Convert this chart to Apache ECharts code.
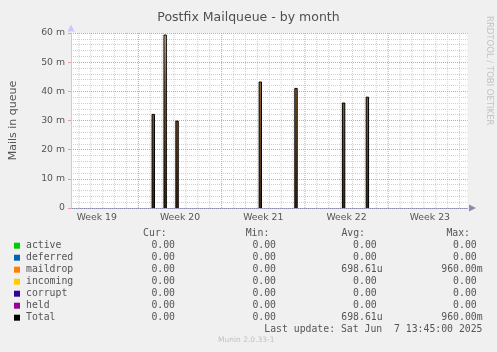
<!DOCTYPE html>
<html>
<head>
<meta charset="utf-8">
<script src="https://cdn.jsdelivr.net/npm/echarts@6/dist/echarts.min.js"></script>
<style>
  html, body { margin: 0; padding: 0; background: #f0f0f0; }
  #chart { width: 497px; height: 352px; }
</style>
</head>
<body>
<div id="chart"></div>
<script>
// x is in days since Monday of week 19
var xMin = 4 / 3;
var xMax = 104 / 3;
var weekStarts = [7, 14, 21, 28];
var weekCenters = [3.5, 10.5, 17.5, 24.5, 31.5];
var weekLabels = ['Week 19', 'Week 20', 'Week 21', 'Week 22', 'Week 23'];
var dayLines = [2, 3, 4, 5, 6, 8, 9, 10, 11, 12, 13, 15, 16, 17, 18, 19, 20, 22, 23, 24, 25, 26, 27, 29, 30, 31, 32, 33, 34];

// maildrop spikes (m = milli mails)
var spikeDays = [8.15, 9.15, 10.15, 17.15, 20.15, 24.15, 26.15];
var spikeValues = [32.1, 59.3, 29.8, 43.2, 41.0, 36.0, 38.0];
var spikeWidth = 0.2;

var seriesNames = ['active', 'deferred', 'maildrop', 'incoming', 'corrupt', 'held', 'Total'];
var seriesColors = ['#00cc00', '#0066b3', '#ff8000', '#ffcc00', '#330099', '#990099', '#000000'];
var curValues = ['0.00', '0.00', '0.00', '0.00', '0.00', '0.00', '0.00'];
var minValues = ['0.00', '0.00', '0.00', '0.00', '0.00', '0.00', '0.00'];
var avgValues = ['0.00', '0.00', '698.61u', '0.00', '0.00', '0.00', '698.61u'];
var maxValues = ['0.00', '0.00', '960.00m', '0.00', '0.00', '0.00', '960.00m'];

var yMax = 60;

var spikeData = [];
spikeDays.forEach(function (d, i) {
  spikeData.push([d, 0], [d, spikeValues[i]], [d + spikeWidth, spikeValues[i]], [d + spikeWidth, 0], null);
});

var mono = 'DejaVu Sans Mono';
var sans = 'DejaVu Sans';
var fs = 9.8;
var charW = fs * 0.602;
var rowTop = 245.7;
var rowH = 12;
var minorColor = '#d0d0d0';
var majorColor = '#e89a9a';

var graphics = [];
function txt(x, y, s, align, color, font, size) {
  graphics.push({
    type: 'text', x: x, y: y, silent: true,
    style: { text: s, fill: color || '#555', font: (size || fs) + 'px "' + (font || mono) + '"', textAlign: align || 'right', textVerticalAlign: 'middle' }
  });
}
txt(166.7, 233.5, 'Cur:');
txt(269.3, 233.5, 'Min:');
txt(365, 233.5, 'Avg:');
txt(470, 233.5, 'Max:');
var cols = [[curValues, 180.9], [minValues, 281.9], [avgValues, 382.6], [maxValues, 482.6]];
seriesNames.forEach(function (n, i) {
  cols.forEach(function (c) {
    var s = c[0][i];
    var hasUnit = /[a-zA-Z]$/.test(s);
    txt(hasUnit ? c[1] : c[1] - charW, rowTop + i * rowH, s);
  });
});
txt(482.5, 329.5, 'Last update: Sat Jun  7 13:45:00 2025');
txt(218, 340.5, 'Munin 2.0.33-1', 'left', '#c0c0c0', sans, 7.5);
graphics.push({
  type: 'text', x: 494, y: 16, rotation: -Math.PI / 2, silent: true,
  style: { text: 'RRDTOOL / TOBI OETIKER', fill: '#c4c4c4', font: '8.5px "' + sans + '"', textAlign: 'left', textVerticalAlign: 'top' }
});

// vertical grid lines (days grey, weeks red)
function vLines(name, values, color, z) {
  var data = [];
  values.forEach(function (v) { data.push([v, 0], [v, yMax], null); });
  return {
    name: name, type: 'line', data: data, symbol: 'none', silent: true, z: z, connectNulls: false,
    lineStyle: { color: color, width: 1, type: [1, 1] }
  };
}

var series = [vLines('days', dayLines, minorColor, 1), vLines('weeks', weekStarts, majorColor, 2)];
seriesNames.forEach(function (n, i) {
  series.push({ name: n, type: 'line', data: [], symbol: 'none', z: 3, itemStyle: { color: seriesColors[i] }, lineStyle: { width: 1 } });
});
series[4].data = spikeData;
series[4].lineStyle = { width: 0 };
series[4].areaStyle = {
  opacity: 1,
  color: new echarts.graphic.LinearGradient(0, 0, 0, 1, [
    { offset: 0, color: '#d8b890' },
    { offset: 0.35, color: '#8a5a2a' },
    { offset: 1, color: '#3a2410' }
  ])
};
series[8].data = spikeData;
series[8].z = 5;

var chart = echarts.init(document.getElementById('chart'));
chart.setOption({
  backgroundColor: '#f0f0f0',
  animation: false,
  title: {
    text: 'Postfix Mailqueue - by month', left: 'center', top: 6,
    textStyle: { fontFamily: sans, fontSize: 12.5, fontWeight: 'normal', color: '#505050' }
  },
  grid: { left: 67.5, right: 29.5, top: 33, bottom: 144, show: true, backgroundColor: '#ffffff', borderWidth: 0 },
  legend: {
    orient: 'vertical', left: 14, top: 239.7, padding: 0, itemWidth: 6, itemHeight: 6, itemGap: 0, icon: 'rect',
    selectedMode: false, data: seriesNames,
    textStyle: { fontFamily: mono, fontSize: fs, color: '#555', lineHeight: 12, padding: [0, 0, 0, 1] }
  },
  xAxis: {
    type: 'value', min: xMin, max: xMax,
    axisLine: { show: true, lineStyle: { color: '#8c8cb0' }, symbol: ['none', 'triangle'], symbolSize: [7, 7], symbolOffset: [0, 5] },
    axisTick: { show: false, customValues: weekCenters },
    axisLabel: {
      customValues: weekCenters, color: '#555', fontFamily: sans, fontSize: 9.3, margin: 5,
      formatter: function (v) { return weekLabels[Math.floor(v / 7)]; }
    },
    splitLine: { show: false }
  },
  yAxis: [
    {
      type: 'value', min: 0, max: yMax, interval: 10, z: 2,
      name: 'Mails in queue', nameLocation: 'middle', nameGap: 52,
      nameTextStyle: { fontFamily: sans, fontSize: 11, color: '#555' },
      axisLine: { show: true, lineStyle: { color: '#c8c8ff' }, symbol: ['none', 'triangle'], symbolSize: [7, 7], symbolOffset: [0, 5] },
      axisTick: { show: true, length: 3, lineStyle: { color: majorColor } },
      axisLabel: {
        color: '#555', fontFamily: sans, fontSize: 9.3, margin: 6,
        formatter: function (v) { return v === 0 ? '0' : v + ' m'; }
      },
      splitLine: { show: true, lineStyle: { color: majorColor, type: [1, 1] } }
    },
    {
      // minor horizontal grid every 2 m
      type: 'value', min: 0, max: yMax, interval: 2, position: 'left', z: 1,
      axisLine: { show: false }, axisTick: { show: false }, axisLabel: { show: false },
      splitLine: { show: true, lineStyle: { color: minorColor, type: [1, 1] } }
    }
  ],
  graphic: graphics,
  series: series
});
</script>
</body>
</html>
